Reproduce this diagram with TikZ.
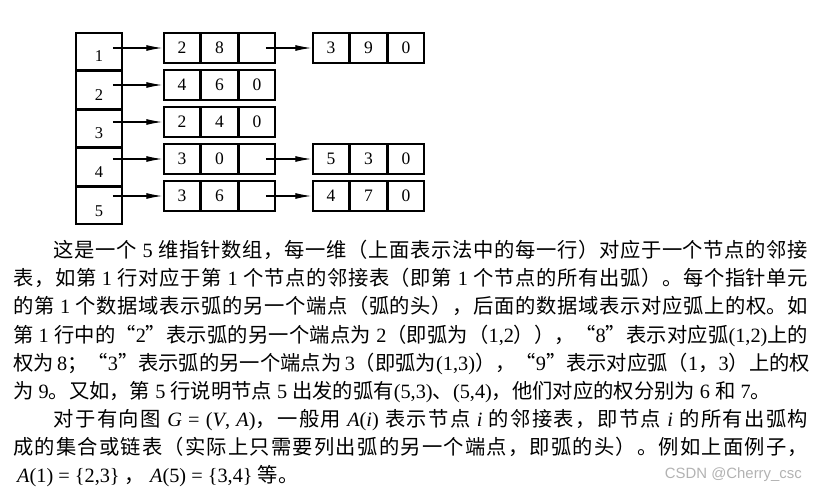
\documentclass[tikz,border=0pt]{standalone}
\usepackage{fontspec}
\setmainfont{Liberation Serif}
\newfontfamily\cjk{Noto Sans CJK SC}
\newfontfamily\markfont{Liberation Sans}
\usetikzlibrary{arrows.meta,positioning}

% Chinese characters pick their own font
\newXeTeXintercharclass\cjkclass
\count255="4E00
\loop \XeTeXcharclass\count255=\cjkclass \advance\count255 by 1
\ifnum\count255<"A000 \repeat
\count255="3000
\loop \XeTeXcharclass\count255=\cjkclass \advance\count255 by 1
\ifnum\count255<"3040 \repeat
\count255="FF00
\loop \XeTeXcharclass\count255=\cjkclass \advance\count255 by 1
\ifnum\count255<"FFF0 \repeat
\XeTeXcharclass"201C=\cjkclass
\XeTeXcharclass"201D=\cjkclass
\XeTeXinterchartoks 0 \cjkclass = {\cjk}
\XeTeXinterchartoks 4095 \cjkclass = {\cjk}
\XeTeXinterchartoks \cjkclass 0 = {\rmfamily}
\XeTeXinterchartoks \cjkclass 4095 = {\rmfamily}
\XeTeXinterchartoks \cjkclass \cjkclass = {\hskip 0pt plus 3bp\relax}

\newcommand{\fullline}[1]{\hbox to 795bp{#1}}

\begin{document}
\begin{tikzpicture}[
  x=1bp, y=-1bp,
  head/.style={draw=black, line width=1.5bp, minimum width=46bp, minimum height=37bp,
               inner sep=0pt, font=\fontsize{16.5bp}{16bp}\selectfont,
               text height=21bp, text depth=0pt},
  cell/.style={draw=black, line width=1.5bp, minimum width=36bp, minimum height=30bp,
               inner sep=0pt, font=\fontsize{17.5bp}{16bp}\selectfont},
  arr/.style={-{Latex[length=16bp,width=6bp]}, line width=1.1bp, shorten >=1bp},
  txt/.style={anchor=base west, inner sep=0pt,
              font={\XeTeXinterchartokenstate=1 \rmfamily\fontsize{20.3bp}{28bp}\selectfont}},
  wmark/.style={anchor=east, inner sep=0pt, text=black!30,
                font=\markfont\fontsize{14.9bp}{15bp}\selectfont}
]
\useasboundingbox (0,0) rectangle (817,492);
% pointer array
\node[head] (h1) at (99,51.5) {1};
\node[head, below=0pt of h1] (h2) {2};
\node[head, below=0pt of h2] (h3) {3};
\node[head, below=0pt of h3] (h4) {4};
\node[head, below=0pt of h4] (h5) {5};
% first cells of each list
\node[cell] (a11) at (182,48) {2};
\node[cell, right=0pt of a11] (a12) {8};
\node[cell, right=0pt of a12] (a13) {};
\node[cell] (a21) at (182,85) {4};
\node[cell, right=0pt of a21] (a22) {6};
\node[cell, right=0pt of a22] (a23) {0};
\node[cell] (a31) at (182,122) {2};
\node[cell, right=0pt of a31] (a32) {4};
\node[cell, right=0pt of a32] (a33) {0};
\node[cell] (a41) at (182,159) {3};
\node[cell, right=0pt of a41] (a42) {0};
\node[cell, right=0pt of a42] (a43) {};
\node[cell] (a51) at (182,196) {3};
\node[cell, right=0pt of a51] (a52) {6};
\node[cell, right=0pt of a52] (a53) {};
% second cells
\node[cell] (b11) at (331,48) {3};
\node[cell, right=0pt of b11] (b12) {9};
\node[cell, right=0pt of b12] (b13) {0};
\node[cell] (b41) at (331,159) {5};
\node[cell, right=0pt of b41] (b42) {3};
\node[cell, right=0pt of b42] (b43) {0};
\node[cell] (b51) at (331,196) {4};
\node[cell, right=0pt of b51] (b52) {7};
\node[cell, right=0pt of b52] (b53) {0};
\draw[arr] ([xshift=-10bp]h1.east |- a11.west) -- (a11.west);
\draw[arr] ([xshift=-10bp]h2.east |- a21.west) -- (a21.west);
\draw[arr] ([xshift=-10bp]h3.east |- a31.west) -- (a31.west);
\draw[arr] ([xshift=-10bp]h4.east |- a41.west) -- (a41.west);
\draw[arr] ([xshift=-10bp]h5.east |- a51.west) -- (a51.west);
\draw[arr] ([xshift=-10bp]a13.east) -- (b11.west);
\draw[arr] ([xshift=-10bp]a43.east) -- (b41.west);
\draw[arr] ([xshift=-10bp]a53.east) -- (b51.west);
% explanation
\node[txt] (l1) at (13,258) {\fullline{\hspace*{2em}这是一个 5 维指针数组，每一维（上面表示法中的每一行）对应于一个节点的邻接}};
\node[txt] (l2) at (13,286) {\fullline{表，如第 1 行对应于第 1 个节点的邻接表（即第 1 个节点的所有出弧）。每个指针单元}};
\node[txt] (l3) at (13,314) {\fullline{的第 1 个数据域表示弧的另一个端点（弧的头），后面的数据域表示对应弧上的权。如}};
\node[txt] (l4) at (13,342) {\fullline{第 1 行中的“2”表示弧的另一个端点为 2（即弧为（1,2）），“8”表示对应弧(1,2)上的}};
\node[txt] (l5) at (13,370) {\fullline{权为 8；“3”表示弧的另一个端点为 3（即弧为(1,3)），“9”表示对应弧（1，3）上的权}};
\node[txt] (l6) at (13,398) {为 9。又如，第 5 行说明节点 5 出发的弧有(5,3)、(5,4)，他们对应的权分别为 6 和 7。};
\node[txt] (l7) at (13,426) {\fullline{\hspace*{2em}对于有向图 {\itshape G} = ({\itshape V}, {\itshape A})，一般用 {\itshape A}({\itshape i}) 表示节点 {\itshape i} 的邻接表，即节点 {\itshape i} 的所有出弧构}};
\node[txt] (l8) at (13,454) {\fullline{成的集合或链表（实际上只需要列出弧的另一个端点，即弧的头）。例如上面例子，}};
\node[txt] (l9) at (13,482) {\hspace*{4bp}{\itshape A}(1) = \{2,3\} ，\ {\itshape A}(5) = \{3,4\} 等。};
\node[wmark] (wm) at (802,475) {CSDN @Cherry\_csc};
\end{tikzpicture}
\end{document}
